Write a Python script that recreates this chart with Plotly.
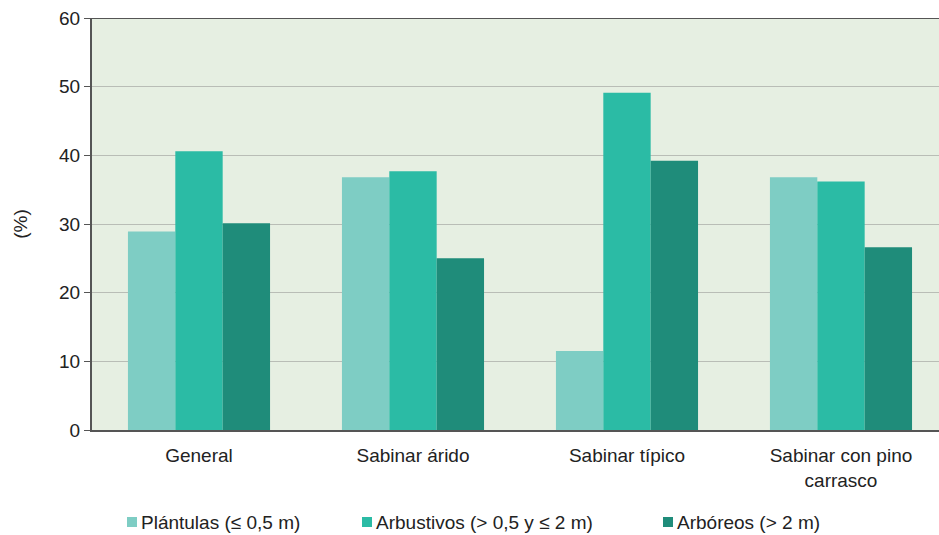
import plotly.graph_objects as go

categories = ["General", "Sabinar árido", "Sabinar típico", "Sabinar con pino<br>carrasco"]
plantulas = [28.9, 36.8, 11.5, 36.8]
arbustivos = [40.6, 37.7, 49.1, 36.2]
arboreos = [30.1, 25.0, 39.2, 26.6]

series = [
    ("Plántulas (≤ 0,5 m)", plantulas, "#7ecdc4"),
    ("Arbustivos (> 0,5 y ≤ 2 m)", arbustivos, "#2bbba5"),
    ("Arbóreos (> 2 m)", arboreos, "#1f8c7a"),
]

W, H = 939, 535
ML, MR, MT, MB = 92, 0, 18, 105
PW, PH = W - ML - MR, H - MT - MB

fig = go.Figure()
for name, vals, color in series:
    fig.add_trace(go.Bar(x=list(range(len(categories))), y=vals, name=name,
                         marker=dict(color=color, line=dict(width=0)),
                         showlegend=False))

font = "Liberation Sans, Arial, sans-serif"
fig.update_layout(
    width=W, height=H,
    margin=dict(l=ML, r=MR, t=MT, b=MB, autoexpand=False),
    paper_bgcolor="white",
    plot_bgcolor="#e6efe2",
    barmode="group",
    bargap=0.336,
    bargroupgap=0,
    font=dict(family=font, size=19, color="#222"),
    xaxis=dict(
        tickmode="array", tickvals=list(range(len(categories))), ticktext=categories,
        range=[-0.5, 3.458], showline=True, linecolor="#555", linewidth=2,
        showgrid=False, ticks="", tickfont=dict(size=19), ticklabelstandoff=7,
    ),
    yaxis=dict(
        range=[0, 60], dtick=10, showline=True, linecolor="#555", linewidth=2,
        gridcolor="#b9bdb6", gridwidth=1, ticks="outside", ticklen=6,
        tickcolor="#555", tickfont=dict(size=19), zeroline=False,
        title=dict(text="(%)", font=dict(size=19), standoff=26),
    ),
    showlegend=False,
)
# frame line along the top of the plot area
fig.add_shape(type="line", xref="paper", yref="y", x0=0, x1=1, y0=60, y1=60,
              line=dict(color="#555", width=2))

# legend row beneath the chart: small colour square followed by the label
legend_x = [127, 362, 663]
legend_y = 522
for (name, _, color), lx in zip(series, legend_x):
    x0 = (lx - ML) / PW
    x1 = (lx + 10 - ML) / PW
    y0 = (H - MB - (legend_y + 5)) / PH
    y1 = (H - MB - (legend_y - 5)) / PH
    fig.add_shape(type="rect", xref="paper", yref="paper", x0=x0, x1=x1, y0=y0, y1=y1,
                  line=dict(width=0), fillcolor=color)
    fig.add_annotation(text=name, xref="paper", yref="paper",
                       x=(lx + 12 - ML) / PW, y=(H - MB - legend_y) / PH,
                       xanchor="left", yanchor="middle", showarrow=False,
                       font=dict(size=19, color="#222"))

fig.write_html("out.html")
